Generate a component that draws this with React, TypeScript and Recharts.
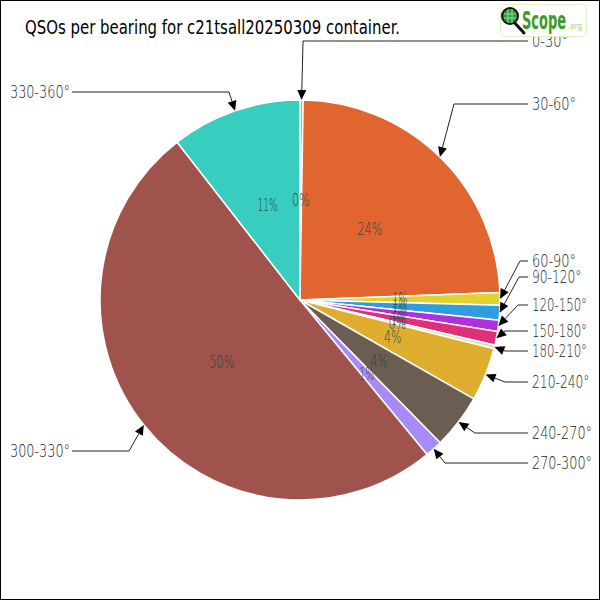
import React from "react";
import { PieChart, Pie, Cell } from "recharts";

const bearings = ["0-30°", "30-60°", "60-90°", "90-120°", "120-150°", "150-180°", "180-210°", "210-240°", "240-270°", "270-300°", "300-330°", "330-360°"];
const qsoShare = [0.25, 24.1, 1.0, 1.2, 0.9, 1.1, 0.3, 4.3, 4.4, 1.4, 50.3, 10.5];
const sliceColors = ["#9acd32", "#e0652f", "#e0d32f", "#2f9de0", "#b02fe0", "#e02f79", "#cfe9b8", "#e0ae2f", "#6b5d52", "#a78af5", "#a0524d", "#38cdbf"];

// leader-label layout (label row y, elbow x)
const labelRowY = [41, 104, 261, 277, 305, 331, 351, 382, 433, 463, 451, 92];
const elbowX = [303, 454, 520, 519, 518, 505, 505, 505, 475, 445, 129, 229];

const data = bearings.map((name, i) => ({ name, value: qsoShare[i] }));

const RAD = Math.PI / 180;
const LABEL_FONT = "'DejaVu Sans', 'Open Sans', sans-serif";

const charW = (s: string, digit: number, one: number, other: number) =>
  s.split("").reduce((acc, c) => acc + (c === "1" ? one : /[0-9]/.test(c) ? digit : other), 0);

const renderLabel = (props: any) => {
  const { cx, cy, midAngle, outerRadius, percent, index } = props;
  const cos = Math.cos(-midAngle * RAD);
  const sin = Math.sin(-midAngle * RAD);
  const ix = cx + (outerRadius / 2) * cos;
  const iy = cy + (outerRadius / 2) * sin;
  const tx = cx + outerRadius * cos;
  const ty = cy + outerRadius * sin;
  const ey = labelRowY[index];
  const ex = elbowX[index];
  const left = ex < cx - 20;
  const textX = left ? 70 : 532;
  let dx = tx - ex;
  let dy = ty - ey;
  const len = Math.sqrt(dx * dx + dy * dy) || 1;
  dx /= len;
  dy /= len;
  const L = 10;
  const W = 4.5;
  const bx = tx - dx * L;
  const by = ty - dy * L;
  const p1 = `${tx},${ty}`;
  const p2 = `${bx - dy * W},${by + dx * W}`;
  const p3 = `${bx + dy * W},${by - dx * W}`;
  const hx = left ? textX + 2 : textX - 4;
  const pct = `${Math.round(percent * 100)}%`;
  const name = bearings[index];
  return (
    <g>
      <text
        x={ix}
        y={iy}
        fill="#244848"
        fontSize={17}
        fontWeight={200}
        fontFamily={LABEL_FONT}
        textAnchor="middle"
        dominantBaseline="central"
        textLength={charW(pct, 7.5, 5, 10)}
        lengthAdjust="spacingAndGlyphs"
      >
        {pct}
      </text>
      <polyline points={`${hx},${ey} ${ex},${ey} ${bx},${by}`} fill="none" stroke="#222" strokeWidth={1} />
      <polygon points={`${p1} ${p2} ${p3}`} fill="#000" />
      <text
        x={textX}
        y={ey}
        fill="#1a1a1a"
        fontSize={17}
        fontWeight={200}
        fontFamily={LABEL_FONT}
        textAnchor={left ? "end" : "start"}
        dominantBaseline="central"
        textLength={charW(name, 8, 5.5, 6)}
        lengthAdjust="spacingAndGlyphs"
      >
        {name}
      </text>
    </g>
  );
};

const Logo = () => (
  <svg width={90} height={36} style={{ position: "absolute", left: 499, top: 3 }}>
    <rect x={1.5} y={1.5} width={86} height={32} rx={4} fill="#fff" stroke="#e6efc4" />
    <line x1={14} y1={18} x2={25} y2={30} stroke="#111" strokeWidth={3} strokeLinecap="round" />
    <circle cx={11} cy={13} r={8} fill="#2a9a3a" stroke="#111" strokeWidth={2} />
    <line x1={5} y1={11} x2={17} y2={11} stroke="#9fd89f" strokeWidth={1} />
    <line x1={5} y1={15} x2={17} y2={15} stroke="#9fd89f" strokeWidth={1} />
    <line x1={9} y1={6} x2={9} y2={20} stroke="#9fd89f" strokeWidth={1} />
    <line x1={13} y1={6} x2={13} y2={20} stroke="#9fd89f" strokeWidth={1} />
    <text x={23} y={26} fill="#3a9a2a" fontSize={24} fontWeight={700} fontFamily="'DejaVu Sans Condensed', sans-serif" textLength={44} lengthAdjust="spacingAndGlyphs">Scope</text>
    <text x={69} y={26} fill="#9fd07a" fontSize={9} fontFamily="'DejaVu Sans', sans-serif" textLength={14} lengthAdjust="spacingAndGlyphs">.org</text>
  </svg>
);

export default function App() {
  return (
    <div style={{ position: "absolute", left: 0, top: 0, width: 600, height: 600, background: "#fff" }}>
      <PieChart width={600} height={600} margin={{ top: 0, right: 0, bottom: 0, left: 0 }}>
        <Pie
          data={data}
          dataKey="value"
          nameKey="name"
          cx={300}
          cy={300}
          outerRadius={200}
          startAngle={90}
          endAngle={-270}
          stroke="#fff"
          strokeWidth={1.5}
          label={renderLabel}
          labelLine={false}
          isAnimationActive={false}
        >
          {data.map((d, i) => (
            <Cell key={d.name} fill={sliceColors[i]} />
          ))}
        </Pie>
      </PieChart>
      <svg width={600} height={60} style={{ position: "absolute", left: 0, top: 0 }}>
        <text x={25} y={34} fontSize={19} fill="#000" fontFamily="'DejaVu Sans Condensed', sans-serif" textLength={375} lengthAdjust="spacingAndGlyphs">
          QSOs per bearing for c21tsall20250309 container.
        </text>
      </svg>
      <Logo />
      <div style={{ position: "absolute", left: 0, top: 0, width: 600, height: 600, boxSizing: "border-box", border: "1px solid #000", pointerEvents: "none" }} />
    </div>
  );
}
